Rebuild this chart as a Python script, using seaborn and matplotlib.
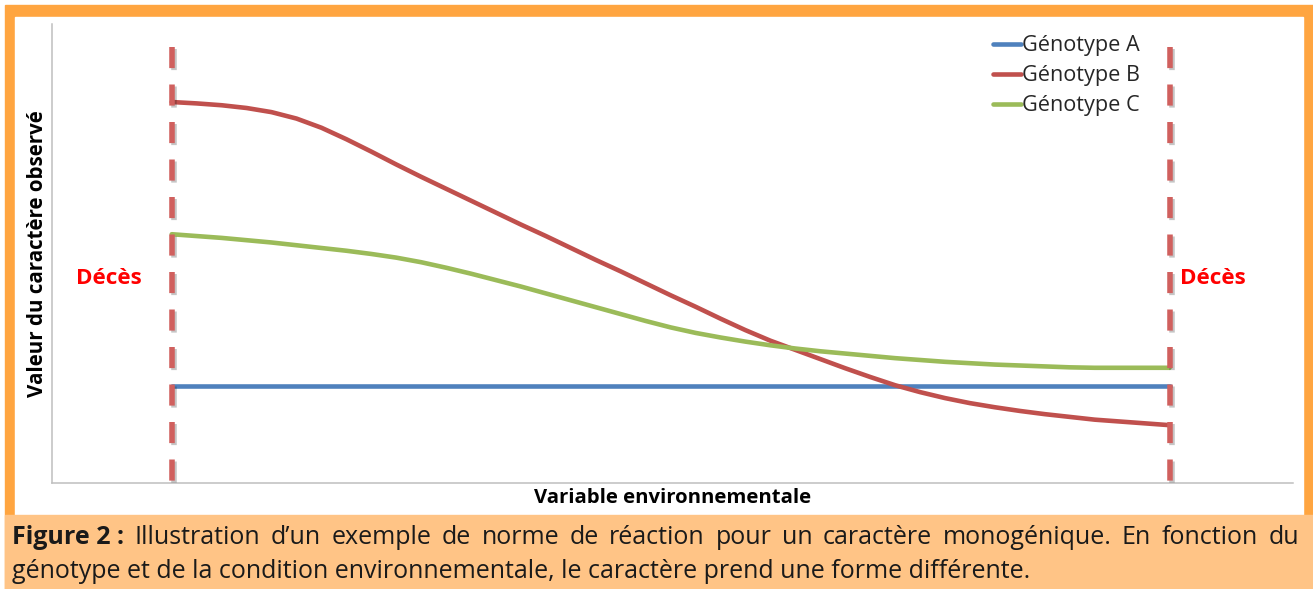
import pandas as pd
import seaborn as sns
import matplotlib.pyplot as plt
import matplotlib.patheffects as pe
from matplotlib.patches import Rectangle

# taille de l'image en pixels (dpi 100)
W, H = 1313, 589

# donnees (unites arbitraires)
x_env = [1.0, 1.2, 1.4, 1.6, 1.8, 2.0, 2.2, 2.4, 2.6, 2.8, 3.0,
         3.2, 3.4, 3.6, 3.8, 4.0, 4.2, 4.4, 4.6, 4.8, 5.0,
         5.2, 5.4, 5.6, 5.8, 6.0, 6.2, 6.4, 6.6, 6.8, 7.0,
         7.2, 7.4, 7.6, 7.8, 8.0, 8.2, 8.4, 8.6, 8.8, 9.0]
genotype_b = [8.30, 8.27, 8.23, 8.17, 8.08, 7.94, 7.74, 7.49, 7.22, 6.94, 6.67,
              6.41, 6.15, 5.89, 5.63, 5.38, 5.12, 4.86, 4.61, 4.35, 4.09,
              3.84, 3.58, 3.33, 3.10, 2.90, 2.70, 2.50, 2.31, 2.13, 1.98,
              1.85, 1.74, 1.65, 1.57, 1.50, 1.44, 1.38, 1.34, 1.30, 1.26]
genotype_c = [5.42, 5.38, 5.34, 5.29, 5.24, 5.18, 5.12, 5.06, 4.99, 4.91, 4.81,
              4.69, 4.56, 4.42, 4.28, 4.13, 3.98, 3.83, 3.68, 3.53, 3.39,
              3.27, 3.17, 3.08, 3.00, 2.93, 2.87, 2.82, 2.77, 2.72, 2.68,
              2.64, 2.61, 2.58, 2.56, 2.54, 2.52, 2.51, 2.51, 2.51, 2.51]
x_a = [1.0, 9.0]
genotype_a = [2.11, 2.11]

noms = ['Génotype A', 'Génotype B', 'Génotype C']
couleurs = ['#4F81BD', '#C0504D', '#9BBB59']
limites = [1.0, 9.0]   # zones de deces
haut_limite = 9.5

legende_texte = 'Décès'
titre_x = 'Variable environnementale'
titre_y = 'Valeur du caractère observé'
legende_fig_1 = ['Figure 2 :', 'Illustration', 'd’un', 'exemple', 'de', 'norme', 'de', 'réaction', 'pour',
                 'un', 'caractère', 'monogénique.', 'En', 'fonction', 'du']
legende_fig_2 = 'génotype et de la condition environnementale, le caractère prend une forme différente.'

df = pd.concat([
    pd.DataFrame({'env': x_a, 'valeur': genotype_a, 'genotype': noms[0]}),
    pd.DataFrame({'env': x_env, 'valeur': genotype_b, 'genotype': noms[1]}),
    pd.DataFrame({'env': x_env, 'valeur': genotype_c, 'genotype': noms[2]}),
], ignore_index=True)

sns.set_theme(style='white')
plt.rcParams['font.family'] = ['Open Sans', 'DejaVu Sans']


def fx(px):
    return px / W


def fy(py):
    return 1 - py / H


fig = plt.figure(figsize=(W / 100, H / 100), dpi=100)
fig.patch.set_facecolor('white')
rend = fig.canvas.get_renderer()


def taille_pour(texte, largeur, poids='normal'):
    # taille de police pour que le texte fasse la largeur voulue (en px)
    t = fig.text(0, 0, texte, fontsize=10, fontweight=poids)
    w = t.get_window_extent(rend).width
    t.remove()
    return 10 * largeur / w


# cadre orange + encadre de legende
fig.add_artist(Rectangle((fx(5), fy(589)), fx(1313) - fx(5), fy(5) - fy(589),
                         transform=fig.transFigure, color='#FFA540', zorder=-10))
fig.add_artist(Rectangle((fx(15), fy(515)), fx(1303) - fx(15), fy(17) - fy(515),
                         transform=fig.transFigure, color='white', zorder=-9))
fig.add_artist(Rectangle((fx(5), fy(589)), fx(1313) - fx(5), fy(515) - fy(589),
                         transform=fig.transFigure, color='#FFC486', zorder=-9))

ax = fig.add_axes([fx(52), fy(483), fx(1293) - fx(52), fy(24) - fy(483)])
ax.set_facecolor('none')

sns.lineplot(data=df, x='env', y='valeur', hue='genotype', hue_order=noms,
             palette=dict(zip(noms, couleurs)), linewidth=3.3, sort=False,
             errorbar=None, ax=ax, zorder=2)

for xl in limites:
    ax.plot([xl, xl], [haut_limite, 0], color='#D0605E', lw=4, dashes=(3.8, 2.95),
            solid_capstyle='butt', zorder=3,
            path_effects=[pe.SimpleLineShadow(offset=(1.5, -1.5), alpha=0.25), pe.Normal()])

ax.set_xlim(0.04, 9.99)
ax.set_ylim(0, 10)
ax.set_xticks([])
ax.set_yticks([])
ax.set_xlabel('')
ax.set_ylabel('')
for s in ['top', 'right']:
    ax.spines[s].set_visible(False)
for s in ['left', 'bottom']:
    ax.spines[s].set_color('#BFBFBF')
    ax.spines[s].set_linewidth(1.1)

# legende des genotypes
fs_leg = taille_pour(noms[0], 117)
t = fig.text(0, 0, noms[0], fontsize=fs_leg)
h_txt = t.get_window_extent(rend).height
t.remove()
fs_px = fs_leg * 100 / 72
ax.legend(loc='center left', bbox_to_anchor=(fx(993), fy(76)), bbox_transform=fig.transFigure,
          frameon=False, fontsize=fs_leg, handlelength=28 / fs_px, handletextpad=1 / fs_px,
          labelspacing=(30 - h_txt) / fs_px, borderpad=0, borderaxespad=0)

# textes
fig.text(fx(38), fy(254), titre_y, rotation=90, ha='center', va='center',
         fontsize=taille_pour(titre_y, 288, 'bold'), fontweight='bold', color='black')
fig.text(fx(673), fy(498), titre_x, ha='center', va='center',
         fontsize=taille_pour(titre_x, 277, 'bold'), fontweight='bold', color='black')
fs_deces = taille_pour(legende_texte, 66, 'bold')
fig.text(fx(109), fy(279), legende_texte, ha='center', va='center',
         fontsize=fs_deces, fontweight='bold', color='#FF0000')
fig.text(fx(1213), fy(279), legende_texte, ha='center', va='center',
         fontsize=fs_deces, fontweight='bold', color='#FF0000')

# legende de la figure : 1re ligne justifiee
fs_cap = taille_pour(legende_fig_2, 1018)
objs = []
for i, mot in enumerate(legende_fig_1):
    objs.append(fig.text(0, fy(537), mot, fontsize=fs_cap, va='center', color='#1a1a1a',
                         fontweight='bold' if i == 0 else 'normal'))
larg = [t.get_window_extent(rend).width for t in objs]
ecart = ((1299 - 12) - sum(larg)) / (len(objs) - 1)
xpos = 12
for t, w in zip(objs, larg):
    t.set_x(fx(xpos))
    xpos += w + ecart

fig.text(fx(12), fy(572), legende_fig_2, fontsize=fs_cap, va='center', color='#1a1a1a')

fig.savefig('out.png', dpi=100)
